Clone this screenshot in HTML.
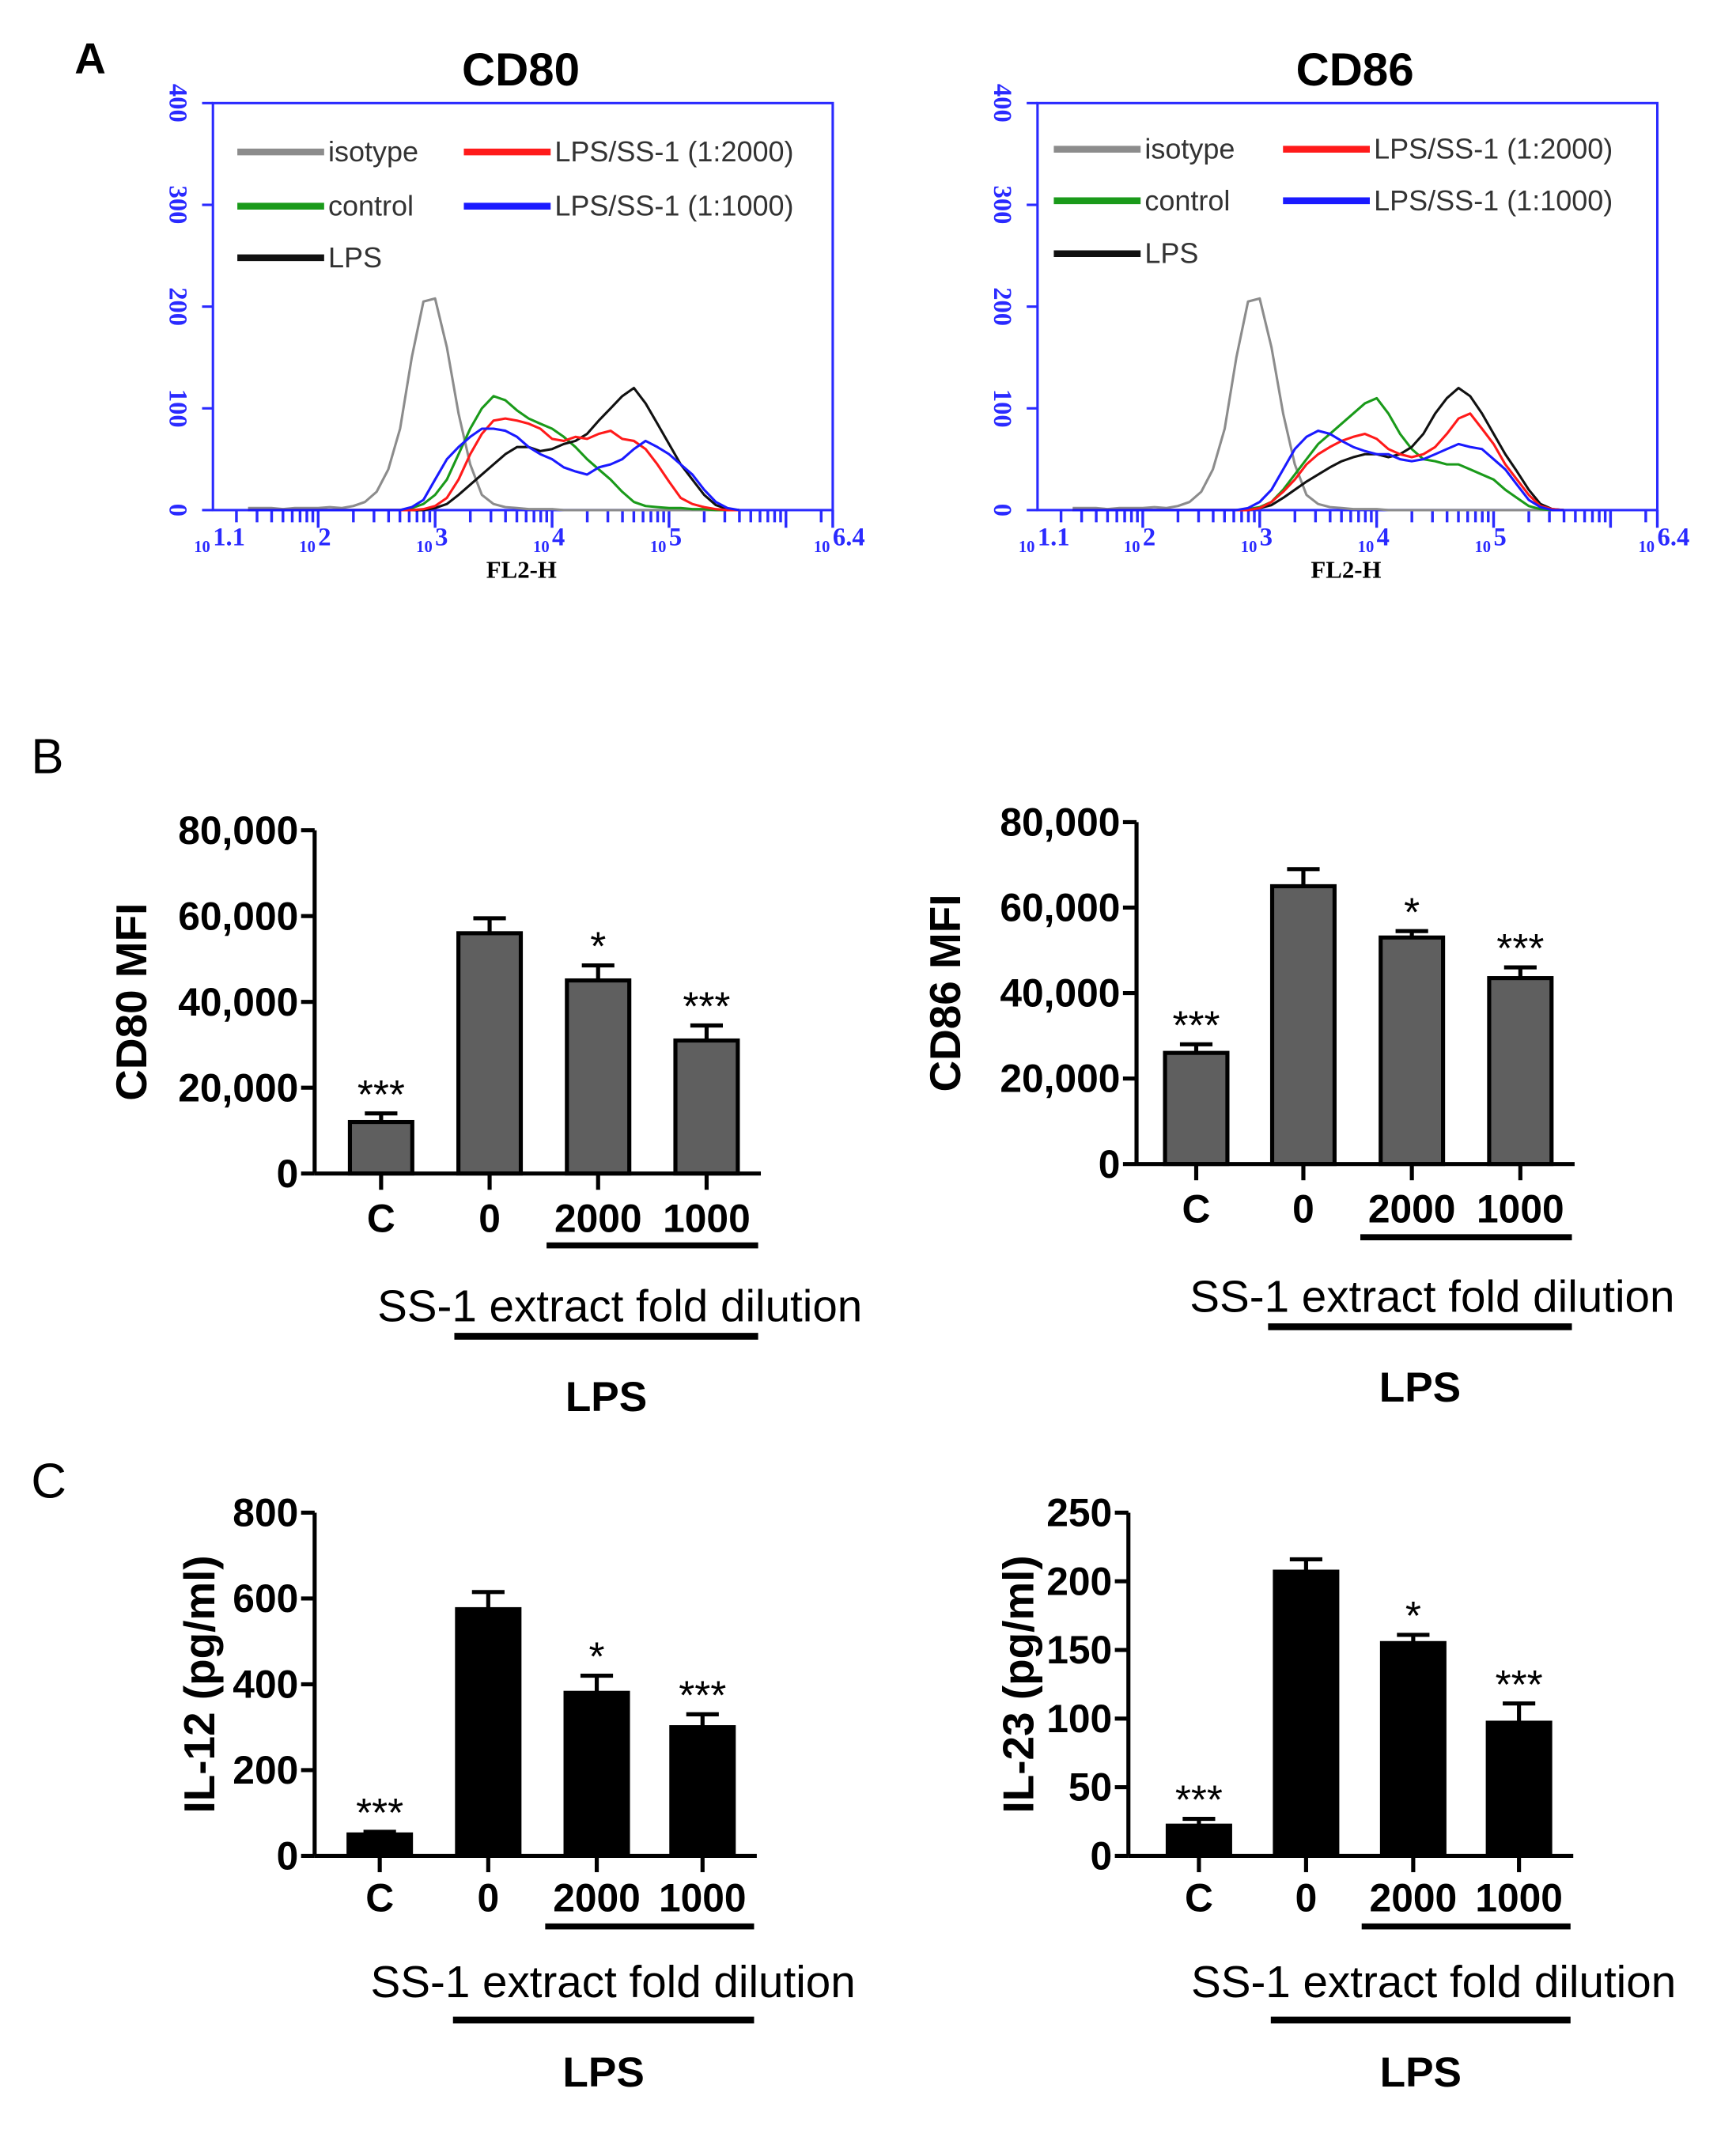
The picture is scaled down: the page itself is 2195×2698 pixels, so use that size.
<!DOCTYPE html>
<html><head><meta charset="utf-8"><style>
html,body{margin:0;padding:0;background:#fff;}
svg{display:block;}
</style></head><body>
<svg id="fig" width="2195" height="2698" viewBox="0 0 1280 1573" preserveAspectRatio="none" xmlns="http://www.w3.org/2000/svg" font-family="Liberation Sans, Arial, sans-serif">
<text x="55" y="54" font-size="32" font-weight="bold">A</text>
<text x="23" y="570" font-size="36">B</text>
<text x="23" y="1104" font-size="36">C</text>
</svg>
<script>
// ---------- Histogram data (counts on log10 bins from 1.4 to 5.6 step 0.1) ----------
const binStart = 1.4, binStep = 0.1;
const histSeriesNames = ["isotype","control","LPS","LPS/SS-1 (1:2000)","LPS/SS-1 (1:1000)"];
const cd80Isotype = [2,2,2,1,2,2,2,3,2,4,8,18,40,80,150,205,208,160,95,45,15,6,3,2,1,1,1,0,0,0,0,0,0,0,0,0,0,0,0,0,0,0,0];
const cd80Control = [0,0,0,0,0,0,0,0,0,0,0,0,0,0,2,6,15,30,55,80,100,112,108,98,90,85,80,72,62,50,40,30,18,8,4,3,2,2,1,1,0,0,0];
const cd80Lps     = [0,0,0,0,0,0,0,0,0,0,0,0,0,0,0,0,2,6,15,25,35,45,55,62,62,58,60,65,68,75,88,100,112,120,105,85,65,45,30,15,5,1,0];
const cd80Ss2000  = [0,0,0,0,0,0,0,0,0,0,0,0,0,0,0,1,4,12,30,55,75,88,90,88,85,80,70,68,72,70,75,78,70,68,60,45,28,12,6,3,1,0,0];
const cd80Ss1000  = [0,0,0,0,0,0,0,0,0,0,0,0,0,0,3,10,30,50,62,72,80,80,78,72,62,55,50,42,38,35,42,45,50,60,68,62,55,45,35,20,8,2,0];
const cd86Isotype = [2,2,2,1,2,2,2,3,2,4,8,18,40,80,150,205,208,160,95,45,15,6,3,2,1,1,1,0,0,0,0,0,0,0,0,0,0,0,0,0,0,0,0];
const cd86Control = [0,0,0,0,0,0,0,0,0,0,0,0,0,0,0,1,3,8,20,35,50,65,75,85,95,105,110,95,75,60,50,48,45,45,40,35,30,20,12,4,1,0,0];
const cd86Lps     = [0,0,0,0,0,0,0,0,0,0,0,0,0,0,0,0,2,5,12,20,28,35,42,48,52,55,55,52,55,62,75,95,110,120,112,95,75,55,38,20,6,1,0];
const cd86Ss2000  = [0,0,0,0,0,0,0,0,0,0,0,0,0,0,0,0,2,8,18,30,45,55,62,68,72,75,70,60,55,52,55,62,75,90,95,80,65,45,30,15,4,1,0];
const cd86Ss1000  = [0,0,0,0,0,0,0,0,0,0,0,0,0,0,0,2,8,20,40,60,72,78,75,68,62,58,55,55,50,48,50,55,60,65,62,60,50,40,25,10,3,0,0];

// ---------- Bar data ----------
const barCategories = ["C","0","2000","1000"];
const cd80Values = [12000,56000,45000,31000];
const cd80Errors = [2000,3500,3500,3500];
const cd86Values = [26000,65000,53000,43500];
const cd86Errors = [2000,4000,1500,2500];
const il12Values = [50,575,380,300];
const il12Errors = [6,40,40,30];
const il23Values = [22,207,155,97];
const il23Errors = [5,9,6,14];
const barStars = ["***","","*","***"];
const mfiTicks = ["0","20,000","40,000","60,000","80,000"];
const il12Ticks = ["0","200","400","600","800"];
const il23Ticks = ["0","50","100","150","200","250"];

const NS = "http://www.w3.org/2000/svg";
const svg = document.getElementById("fig");
function mk(tag, attrs, parent){
  const e = document.createElementNS(NS, tag);
  for (const k in attrs) e.setAttribute(k, attrs[k]);
  (parent||svg).appendChild(e);
  return e;
}

function histogram(ox, title, titleX, series, legendYs, legX1, legX2, name){
  const g = mk("g", {});
  
  
  const L = ox, R = ox + 457, T = 76, B = 376;
  const logMin = 1.1, logMax = 6.4;
  const xs = v => L + (v - logMin) / (logMax - logMin) * (R - L);
  const ys = v => B - v / 400 * (B - T);
  const t = mk("text", {x: titleX, y: 63, "font-size": 34, "font-weight": "bold", "text-anchor": "middle"}, g);
  t.textContent = title;
  
  
  const box = mk("rect", {x: L, y: T, width: R-L, height: B-T, fill: "none", stroke: "#2a2aff", "stroke-width": 1.8}, g);
  
  
  [0,100,200,300,400].forEach(v => {
    const y = ys(v);
    mk("line", {x1: L-8, x2: L, y1: y, y2: y, stroke: "#2a2aff", "stroke-width": 1.8}, g);
    const lt = mk("text", {x: 0, y: 0, "font-size": 19, fill: "#2a2aff", "font-weight": "bold", "font-family": "Liberation Serif, serif", "text-anchor": "middle", transform: `translate(${L-32},${y}) rotate(90)`}, g);
    lt.textContent = v;
    
    
  });
  for (let d = 1; d <= 6; d++) {
    for (let m = 1; m <= 9; m++) {
      const lv = d + Math.log10(m);
      if (lv < logMin || lv > logMax) continue;
      const x = xs(lv);
      mk("line", {x1: x, x2: x, y1: B, y2: B + (m === 1 ? 13 : 9), stroke: "#2a2aff", "stroke-width": 2}, g);
    }
  }
  mk("line", {x1: R, x2: R, y1: B, y2: B+13, stroke: "#2a2aff", "stroke-width": 2}, g);
  [["1.1",1.1],["2",2],["3",3],["4",4],["5",5],["6.4",6.4]].forEach(([s, v]) => {
    const x = xs(v);
    const lt = mk("text", {x: x - 14, y: 407, "font-size": 12, fill: "#2a2aff", "font-family": "Liberation Serif, serif", "font-weight": "bold"}, g);
    lt.textContent = "10";
    
    
    const st = mk("text", {x: x, y: 402, "font-size": 19, fill: "#2a2aff", "font-family": "Liberation Serif, serif", "font-weight": "bold"}, g);
    st.textContent = s;
    
    
  });
  const xt = mk("text", {x: (L+R)/2 - 1, y: 426, "font-size": 18, "font-family": "Liberation Serif, serif", "font-weight": "bold", "text-anchor": "middle"}, g);
  xt.textContent = "FL2-H";
  
  
  series.forEach(s => {
    let d = "";
    s.data.forEach((v, i) => {
      const lv = binStart + i * binStep;
      d += (i ? "L" : "M") + xs(lv).toFixed(1) + "," + ys(v).toFixed(1);
    });
    const p = mk("path", {d: d, fill: "none", stroke: s.color, "stroke-width": 1.8, "stroke-linejoin": "round"}, g);
    
    
  });
  const legendPos = [[0,0],[0,1],[0,2],[1,0],[1,1]];
  series.forEach((s, i) => {
    const [c, r] = legendPos[i];
    const lx = c ? legX2 : legX1, ly = legendYs[r];
    const ln = mk("line", {x1: lx, x2: lx + 64, y1: ly, y2: ly, stroke: s.color, "stroke-width": 5}, g);
    
    
    const lt = mk("text", {x: lx + 67, y: ly + 7, "font-size": 21, fill: "#333"}, g);
    lt.textContent = s.label;
    
    
  });
}

histogram(157, "CD80", 384, [
  {key:"isotype", label: histSeriesNames[0], color:"#8c8c8c", data: cd80Isotype},
  {key:"control", label: histSeriesNames[1], color:"#1a9a1a", data: cd80Control},
  {key:"lps", label: histSeriesNames[2], color:"#111", data: cd80Lps},
  {key:"ss1-2000", label: histSeriesNames[3], color:"#ff1a1a", data: cd80Ss2000},
  {key:"ss1-1000", label: histSeriesNames[4], color:"#1a1aff", data: cd80Ss1000}
], [112,152,190], 175, 342, "cd80-histogram");

histogram(765, "CD86", 999, [
  {key:"isotype", label: histSeriesNames[0], color:"#8c8c8c", data: cd86Isotype},
  {key:"control", label: histSeriesNames[1], color:"#1a9a1a", data: cd86Control},
  {key:"lps", label: histSeriesNames[2], color:"#111", data: cd86Lps},
  {key:"ss1-2000", label: histSeriesNames[3], color:"#ff1a1a", data: cd86Ss2000},
  {key:"ss1-1000", label: histSeriesNames[4], color:"#1a1aff", data: cd86Ss1000}
], [110,148,187], 777, 946, "cd86-histogram");

function barChart(o){
  const g = mk("g", {});
  
  
  const ax = o.ax, y0 = o.y0, yT = o.yTop;
  const ys = v => y0 - v / o.max * (y0 - yT);
  const xEnd = o.centers[3] + 40;
  mk("line", {x1: ax, x2: ax, y1: yT, y2: y0, stroke: "#000", "stroke-width": 3}, g);
  o.ticks.forEach((s, i) => {
    const v = o.max / (o.ticks.length - 1) * i;
    const y = ys(v);
    mk("line", {x1: ax - 10, x2: ax, y1: y, y2: y, stroke: "#000", "stroke-width": 3}, g);
    const t = mk("text", {x: ax - 12, y: y + 10, "font-size": 29, "font-weight": "bold", "text-anchor": "end"}, g);
    t.textContent = s;
    
    
  });
  const yt = mk("text", {x: 0, y: 0, "font-size": 32, "font-weight": "bold", "text-anchor": "middle", transform: `translate(${o.titleX},${(yT+y0)/2}) rotate(-90)`}, g);
  yt.textContent = o.yTitle;
  
  
  o.values.forEach((v, i) => {
    const cx = o.centers[i], w = 46;
    const top = ys(v);
    const eTop = ys(v + o.errors[i]);
    const el = mk("line", {x1: cx, x2: cx, y1: eTop, y2: top, stroke: "#000", "stroke-width": 3}, g);
    
    
    mk("line", {x1: cx - 12, x2: cx + 12, y1: eTop, y2: eTop, stroke: "#000", "stroke-width": 3}, g);
    const r = mk("rect", {x: cx - w/2, y: top, width: w, height: y0 - top, fill: o.fill, stroke: "#000", "stroke-width": 3}, g);
    
    
    if (barStars[i]) {
      const st = mk("text", {x: cx, y: eTop - 4, "font-size": 30, "text-anchor": "middle"}, g);
      st.textContent = barStars[i];
      
      
    }
    mk("line", {x1: cx, x2: cx, y1: y0, y2: y0 + 12, stroke: "#000", "stroke-width": 3}, g);
    const xl = mk("text", {x: cx, y: o.labY, "font-size": 29, "font-weight": "bold", "text-anchor": "middle"}, g);
    xl.textContent = barCategories[i];
    
    
  });
  mk("line", {x1: ax, x2: xEnd, y1: y0, y2: y0, stroke: "#000", "stroke-width": 3}, g);
  const u1 = mk("line", {x1: o.centers[2] - 38, x2: o.centers[3] + 38, y1: o.u1, y2: o.u1, stroke: "#000", "stroke-width": 4.5}, g);
  
  
  const ss = mk("text", {x: o.ssX, y: o.ssY, "font-size": 33, "text-anchor": "middle"}, g);
  ss.textContent = "SS-1 extract fold dilution";
  
  
  const u2 = mk("line", {x1: o.centers[1] - 26, x2: o.centers[3] + 38, y1: o.u2, y2: o.u2, stroke: "#000", "stroke-width": 5}, g);
  
  
  const lp = mk("text", {x: (o.centers[1] + o.centers[3]) / 2 + 6, y: o.lpsY, "font-size": 31, "font-weight": "bold", "text-anchor": "middle"}, g);
  lp.textContent = "LPS";
  
  
}

barChart({name:"cd80-mfi-chart", ax:232, y0:865, yTop:612, max:80000, ticks:mfiTicks, values:cd80Values, errors:cd80Errors, centers:[281,361,441,521], fill:"#5f5f5f", yTitle:"CD80 MFI", titleX:108, labY:908, u1:918, ssX:457, ssY:974, u2:985, lpsY:1040});
barChart({name:"cd86-mfi-chart", ax:838, y0:858, yTop:606, max:80000, ticks:mfiTicks, values:cd86Values, errors:cd86Errors, centers:[882,961,1041,1121], fill:"#5f5f5f", yTitle:"CD86 MFI", titleX:708, labY:901, u1:912, ssX:1056, ssY:967, u2:978, lpsY:1033});
barChart({name:"il12-chart", ax:232, y0:1368, yTop:1115, max:800, ticks:il12Ticks, values:il12Values, errors:il12Errors, centers:[280,360,440,518], fill:"#000", yTitle:"IL-12 (pg/ml)", titleX:158, labY:1409, u1:1420, ssX:452, ssY:1472, u2:1489, lpsY:1538});
barChart({name:"il23-chart", ax:832, y0:1368, yTop:1115, max:250, ticks:il23Ticks, values:il23Values, errors:il23Errors, centers:[884,963,1042,1120], fill:"#000", yTitle:"IL-23 (pg/ml)", titleX:762, labY:1409, u1:1420, ssX:1057, ssY:1472, u2:1489, lpsY:1538});
</script>
</body></html>
